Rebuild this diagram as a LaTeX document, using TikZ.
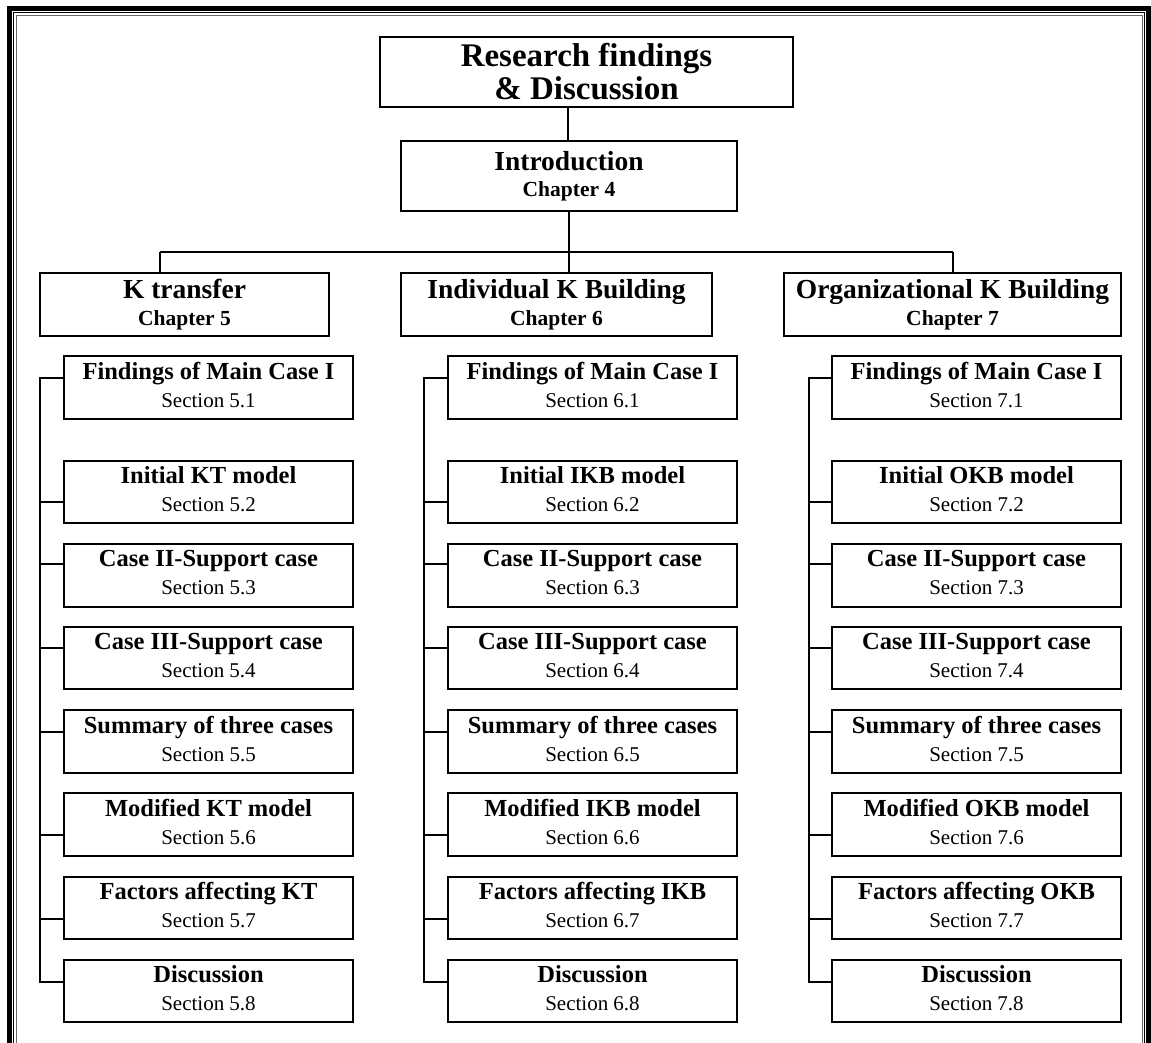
\documentclass[tikz,border=0pt]{standalone}
\usepackage{fontspec}
\setmainfont{Liberation Serif}
\begin{document}
\begin{tikzpicture}[x=1pt,y=-1pt,
  boxline/.style={draw=black,line width=1.7pt,inner sep=0pt,align=center,fill=white},
  topbox/.style={boxline,font=\fontsize{33}{33}\selectfont\bfseries},
  introbox/.style={boxline,font=\fontsize{21.5}{26}\selectfont\bfseries},
  chapbox/.style={boxline,minimum height=63pt,font=\fontsize{21.5}{27}\selectfont\bfseries},
  sectbox/.style={boxline,minimum width=289pt,minimum height=62.5pt,text depth=6pt,font=\fontsize{21}{28}\selectfont},
  link/.style={line width=1.5pt}]

\useasboundingbox (0,0) rectangle (1151,1043);

% page frame: thick outer rule with two thin inner rules
\begin{scope}
  \clip (0,0) rectangle (1151,1043);
  \draw[line width=5pt] (9.5,8.5) rectangle (1148.8,1100);
  \draw[line width=1pt] (13.8,12.4) rectangle (1144.8,1100);
  \draw[line width=0.8pt,black!60] (16.3,15.2) rectangle (1142.3,1100);
\end{scope}

% top of the hierarchy
\node[topbox,minimum width=413pt,minimum height=70pt] (top) at (586.5,72)
  {Research findings\\\& Discussion};
\node[introbox,minimum width=336pt,minimum height=70pt] (intro) at (569,176)
  {{\fontsize{27.5}{26}\selectfont Introduction}\\Chapter 4};

% chapter boxes
\node[chapbox,minimum width=289pt] (ch5) at (184.5,304.5)
  {{\fontsize{27.5}{27}\selectfont K transfer}\\Chapter 5};
\node[chapbox,minimum width=311pt] (ch6) at (556.5,304.5)
  {{\fontsize{27.5}{27}\selectfont Individual K Building}\\Chapter 6};
\node[chapbox,minimum width=337pt] (ch7) at (952.5,304.5)
  {{\fontsize{27.5}{27}\selectfont Organizational K Building}\\Chapter 7};

% connectors between the upper levels
\coordinate (jtop) at (568,0);
\coordinate (hub) at (569,252);
\coordinate (hubL) at (160,252);
\coordinate (hubR) at (953,252);
\draw[link] (top.south -| jtop) -- (intro.north -| jtop);
\draw[link] (intro.south -| hub) -- (hub);
\draw[link] (hubL) -- (hubR);
\draw[link] (hubL) -- (ch5.north -| hubL);
\draw[link] (hub) -- (ch6.north -| hub);
\draw[link] (hubR) -- (ch7.north -| hubR);

% section boxes of each chapter, hung from a bracket line
\foreach \col/\cx/\bx/\ch/\ab in {L/208.5/40/5/KT, M/592.5/424/6/IKB, R/976.5/809/7/OKB} {
  \foreach \n/\cy/\ly/\ttl in {
      1/387.5/378/Findings of Main Case I,
      2/492/502/Initial \ab\ model,
      3/575.5/564/Case II-Support case,
      4/658/648/Case III-Support case,
      5/741.5/732/Summary of three cases,
      6/824.5/835/Modified \ab\ model,
      7/908/919/Factors affecting \ab,
      8/991/982/Discussion} {
    \node[sectbox] (\col\n) at (\cx,\cy)
      {{\fontsize{24.5}{28}\selectfont\bfseries \ttl}\\Section \ch.\n};
    \coordinate (b\col\n) at (\bx,\ly);
  }
  \draw[link] (b\col1 -| \col1.west) -- (b\col1) -- (b\col8) -- (b\col8 -| \col8.west);
  \foreach \n in {2,...,7} {
    \draw[link] (b\col\n) -- (b\col\n -| \col\n.west);
  }
}
\end{tikzpicture}
\end{document}
